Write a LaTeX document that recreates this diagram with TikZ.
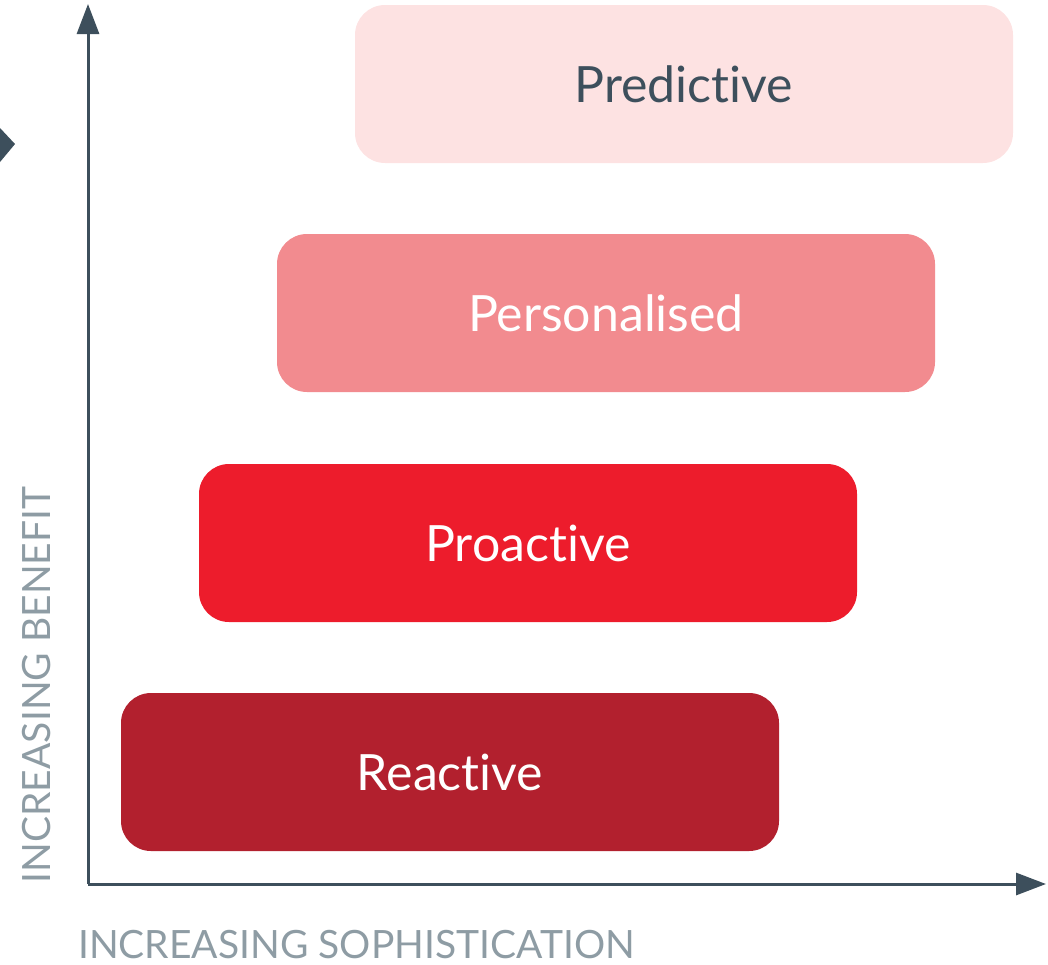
\documentclass[tikz,border=0pt]{standalone}
\usepackage{fontspec}
\setmainfont{Lato}[Ligatures=NoCommon]
\usetikzlibrary{arrows.meta}
\definecolor{slate}{HTML}{3D4F5C}
\definecolor{axisgray}{HTML}{8E9CA4}
\definecolor{predfill}{HTML}{FDE2E2}
\definecolor{persfill}{HTML}{F28B8F}
\definecolor{proafill}{HTML}{ED1C2C}
\definecolor{reacfill}{HTML}{B2202E}
\begin{document}
\begin{tikzpicture}[x=1pt,y=-1pt,
  level/.style={rounded corners=30pt,minimum width=658pt,minimum height=158pt,inner sep=0pt,
    font=\fontsize{50}{60}\selectfont,text=white},
  axis/.style={slate,line width=3pt,-{Triangle[length=30pt,width=22pt]}},
  axislabel/.style={text=axisgray,inner sep=0pt,font=\fontsize{39}{44}\selectfont}]
\useasboundingbox (0,0) rectangle (1048,964);
\node[level,fill=predfill,text=slate] (predictive) at (684,84) {Predictive};
\node[level,fill=persfill] (personalised) at (606,313) {Personalised};
\node[level,fill=proafill] (proactive) at (528,543) {Proactive};
\node[level,fill=reacfill] (reactive) at (450,772) {Reactive};
\coordinate (origin) at (88,884);
\coordinate (ytip) at (88,4);
\coordinate (xtip) at (1046,884);
\draw[axis] (origin) -- (ytip);
\draw[axis] (origin) -- (xtip);
\node[axislabel,anchor=west] (sophistication) at (78,945) {INCREASING SOPHISTICATION};
\node[axislabel,rotate=90] (benefit) at (37,685) {INCREASING BENEFIT};
\fill[slate] (0,128) -- (15,144) -- (0,162) -- cycle;
\end{tikzpicture}
\end{document}
